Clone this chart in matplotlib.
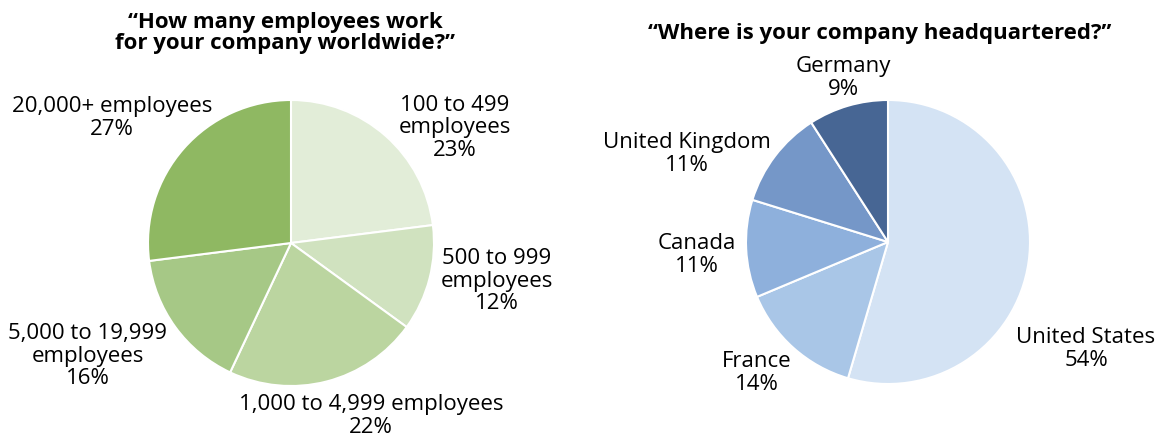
import matplotlib
matplotlib.use("Agg")
import matplotlib.pyplot as plt

# employees worldwide (clockwise from 12 o'clock)
size_labels = ["100 to 499\nemployees", "500 to 999\nemployees", "1,000 to 4,999 employees",
               "5,000 to 19,999\nemployees", "20,000+ employees"]
size_pct = [23, 12, 22, 16, 27]
size_colors = ["#e2edd8", "#d0e2bf", "#bbd5a0", "#a6c886", "#8fb862"]

# headquarters location
hq_labels = ["United States", "France", "Canada", "United Kingdom", "Germany"]
hq_pct = [54, 14, 11, 11, 9]
hq_colors = ["#d4e3f4", "#a9c6e7", "#8eb0dc", "#7597c8", "#476694"]

W, H = 1164, 440
plt.rcParams['font.family'] = ['Open Sans', 'DejaVu Sans']

fig = plt.figure(figsize=(W / 100, H / 100), dpi=100)


def pie_axes(cx, cy, r):
    ax = fig.add_axes([(cx - r) / W, (H - cy - r) / H, 2 * r / W, 2 * r / H])
    ax.set_xlim(-1, 1)
    ax.set_ylim(-1, 1)
    ax.axis("off")
    return ax


def px(x, y):
    return x / W, 1 - y / H


def draw_pie(ax, vals, colors):
    ax.pie(vals, colors=colors, startangle=90, counterclock=False, radius=1,
           wedgeprops=dict(edgecolor="white", linewidth=1.5))
    ax.set_xlim(-1, 1)
    ax.set_ylim(-1, 1)


ax1 = pie_axes(291, 243, 143)
draw_pie(ax1, size_pct, size_colors)
ax2 = pie_axes(888, 242, 142)
draw_pie(ax2, hq_pct, hq_colors)

fs = 16
size_pos = [(455, 128), (497, 281), (371, 416), (88, 356), (112, 118)]
for lab, v, (x, y) in zip(size_labels, size_pct, size_pos):
    fig.text(*px(x, y), f"{lab}\n{v}%", ha="center", va="center", fontsize=fs,
             linespacing=1.1, multialignment="center")

hq_pos = [(1086, 349), (757, 373), (697, 255), (687, 154), (843, 78)]
for lab, v, (x, y) in zip(hq_labels, hq_pct, hq_pos):
    fig.text(*px(x, y), f"{lab}\n{v}%", ha="center", va="center", fontsize=fs,
             linespacing=1.1, multialignment="center")

fig.text(*px(285, 33), "\u201cHow many employees work\nfor your company worldwide?\u201d",
         ha="center", va="center", fontsize=16, fontweight="bold", linespacing=1.05)
fig.text(*px(880, 33), "\u201cWhere is your company headquartered?\u201d",
         ha="center", va="center", fontsize=16, fontweight="bold")

fig.savefig("out.png", dpi=100)
